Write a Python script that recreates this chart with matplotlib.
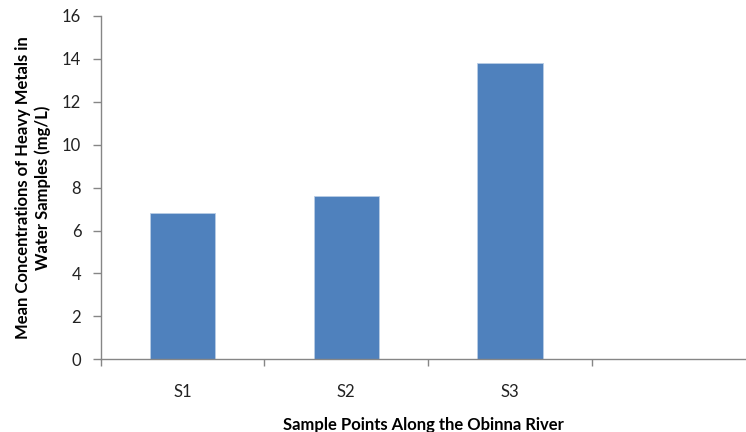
import matplotlib
matplotlib.use('Agg')
import matplotlib.pyplot as plt

sites = ['S1', 'S2', 'S3', '']
conc = [6.8, 7.6, 13.8, 0]

plt.rcParams['font.family'] = ['Lato', 'DejaVu Sans']

fig = plt.figure(figsize=(7.46, 4.32), dpi=100)
ax = fig.add_axes([100.7 / 746, 1 - 359.3 / 432, 1 - 100.7 / 746, (359.3 - 16) / 432])

x = list(range(len(sites)))
ax.bar(x[:3], conc[:3], width=0.4, color='#4F81BD', edgecolor='#B9CDE5', linewidth=0.6, zorder=2)

ax.set_xlim(-0.5, -0.5 + (746 - 100.7) / 163.7)
ax.set_ylim(0, 16)
ax.set_yticks(range(0, 17, 2))

# category labels in the middle, tick marks on the boundaries
ax.set_xticks(x)
ax.set_xticklabels(sites, fontsize=12, color='#222222')
ax.tick_params(axis='x', which='major', length=0, pad=18)
ax.set_xticks([i - 0.5 for i in range(len(sites))], minor=True)
ax.tick_params(axis='x', which='minor', length=5, color='#868686', width=1)
ax.tick_params(axis='y', length=6, color='#868686', width=1, labelsize=12, pad=8, labelcolor='#222222')

for s in ['top', 'right']:
    ax.spines[s].set_visible(False)
for s in ['left', 'bottom']:
    ax.spines[s].set_color('#868686')
    ax.spines[s].set_linewidth(1)

ax.set_ylabel('Mean Concentrations of Heavy Metals in\nWater Samples (mg/L)',
              fontsize=12, fontweight='bold', labelpad=8, linespacing=1.25)
ax.set_xlabel('Sample Points Along the Obinna River', fontsize=12, fontweight='bold', labelpad=12)

fig.savefig('out.png', dpi=100)
